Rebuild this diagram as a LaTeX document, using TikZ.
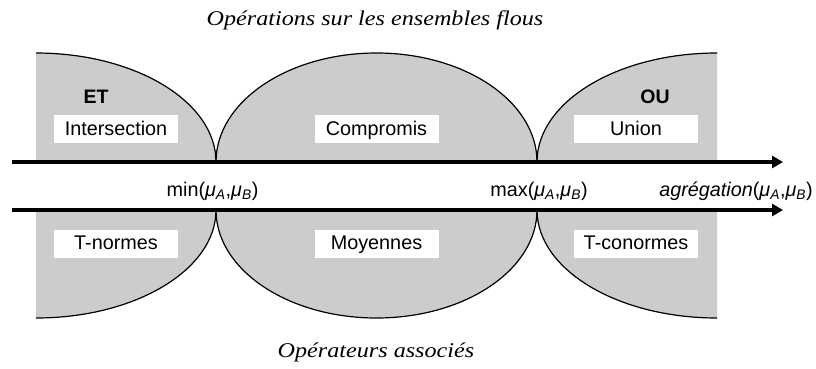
\documentclass[tikz,border=0pt]{standalone}
\usepackage{fontspec}
\setmainfont{Liberation Serif}
\setsansfont{Liberation Sans}
\newfontfamily\capfont[FakeStretch=1.15]{Liberation Serif}
\usetikzlibrary{arrows.meta}
\definecolor{zone}{HTML}{CCCCCC}
\begin{document}
\begin{tikzpicture}[x=1pt,y=-1pt,
  zonefill/.style={fill=zone,draw=none},
  curve/.style={draw=black,line width=1.2pt},
  whitebox/.style={fill=white,draw=none,inner sep=0pt,minimum width=124pt,minimum height=28pt,
     text height=13.5pt,text depth=1pt,font=\sffamily\fontsize{19.8}{22}\selectfont},
  boldlabel/.style={inner sep=0pt,anchor=base,font=\sffamily\bfseries\fontsize{19.5}{22}\selectfont},
  axislabel/.style={inner sep=0pt,anchor=base,font=\sffamily\fontsize{19.8}{22}\selectfont},
  caption/.style={inner sep=0pt,anchor=base,font=\capfont\itshape\fontsize{21}{24}\selectfont},
  bigarrow/.style={line width=4pt,-{Triangle[length=11pt,width=12pt]}}
]
\useasboundingbox (0,0) rectangle (816,369);
% grey zones
\fill[zonefill] (36,162) -- (36,53) arc[start angle=-90,end angle=0,x radius=180,y radius=109] -- cycle;
\fill[zonefill] (216,162) arc[start angle=180,end angle=360,x radius=160.5,y radius=109] -- cycle;
\fill[zonefill] (717,162) -- (537,162) arc[start angle=180,end angle=270,x radius=180,y radius=109] -- cycle;
\fill[zonefill] (36,210) -- (216,210) arc[start angle=0,end angle=90,x radius=180,y radius=108] -- cycle;
\fill[zonefill] (216,210) arc[start angle=180,end angle=0,x radius=160.5,y radius=108] -- cycle;
\fill[zonefill] (717,210) -- (537,210) arc[start angle=180,end angle=90,x radius=180,y radius=108] -- cycle;
% outlines
\draw[curve] (36,53) arc[start angle=-90,end angle=0,x radius=180,y radius=109];
\draw[curve] (216,162) arc[start angle=180,end angle=360,x radius=160.5,y radius=109];
\draw[curve] (537,162) arc[start angle=180,end angle=270,x radius=180,y radius=109];
\draw[curve] (216,210) arc[start angle=0,end angle=90,x radius=180,y radius=108];
\draw[curve] (216,210) arc[start angle=180,end angle=0,x radius=160.5,y radius=108];
\draw[curve] (537,210) arc[start angle=180,end angle=90,x radius=180,y radius=108];
% boxes
\node[whitebox] (inter) at (116,129) {Intersection};
\node[whitebox] (comp) at (376.5,129) {Compromis};
\node[whitebox] (union) at (636,129) {Union};
\node[whitebox] (tnorm) at (116,243.5) {T-normes};
\node[whitebox] (moy) at (376.5,243.5) {Moyennes};
\node[whitebox] (tconorm) at (636,243.5) {T-conormes};
\node[boldlabel] (et) at (96,103) {ET};
\node[boldlabel] (ou) at (655,103) {OU};
% arrows
\coordinate (a1s) at (12,162);
\coordinate (a1e) at (783,162);
\coordinate (a2s) at (12,210);
\coordinate (a2e) at (783,210);
\draw[bigarrow] (a1s) -- (a1e);
\draw[bigarrow] (a2s) -- (a2e);
% axis labels
\node[axislabel] (min) at (212.5,196) {min(\textit{μ}\textsubscript{\textit{A}},\textit{μ}\textsubscript{\textit{B}})};
\node[axislabel] (max) at (539,196) {max(\textit{μ}\textsubscript{\textit{A}},\textit{μ}\textsubscript{\textit{B}})};
\node[axislabel] (agr) at (736,196) {\textit{agrégation}(\textit{μ}\textsubscript{\textit{A}},\textit{μ}\textsubscript{\textit{B}})};
% captions
\node[caption] (top) at (375,26) {Opérations sur les ensembles flous};
\node[caption] (bot) at (376,357) {Opérateurs associés};
\end{tikzpicture}
\end{document}
